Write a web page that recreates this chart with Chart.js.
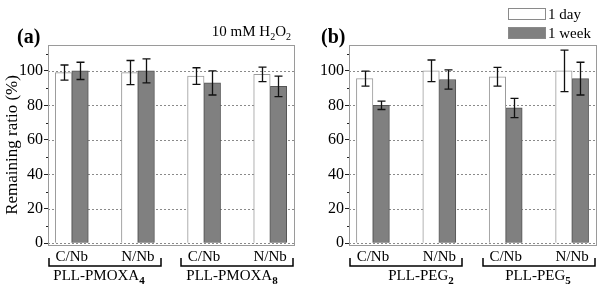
<!DOCTYPE html>
<html><head><meta charset="utf-8">
<script src="https://cdn.jsdelivr.net/npm/chart.js@4.4.0/dist/chart.umd.min.js"></script>
<style>
html,body{margin:0;padding:0;background:#fff;}
#wrap{display:flex;width:600px;height:290px;}
.p{position:relative;width:300px;height:290px;}
</style></head><body>
<div id="wrap"><div class="p"><canvas id="ca"></canvas></div><div class="p"><canvas id="cb"></canvas></div></div>
<script>
const categories = ['C/Nb', 'N/Nb', 'C/Nb', 'N/Nb'];
const seriesNames = ['1 day', '1 week'];
const yTicks = [0, 20, 40, 60, 80, 100];
const yMinorTicks = [10, 30, 50, 70, 90, 110];

const aDay = [99, 99, 97, 98];
const aDayErr = [4.4, 7, 4.8, 4.2];
const aWeek = [100, 100, 93, 91];
const aWeekErr = [5, 7, 7, 6];

const bDay = [95.5, 100, 96.6, 100];
const bDayErr = [4.4, 6.3, 5.4, 12];
const bWeek = [80, 95, 78.5, 95.5];
const bWeekErr = [2.4, 5.6, 5.6, 9.5];

const aGroups = [{name: 'PLL-PMOXA', sub: '4', from: 0, to: 1}, {name: 'PLL-PMOXA', sub: '8', from: 2, to: 3}];
const bGroups = [{name: 'PLL-PEG', sub: '2', from: 0, to: 1}, {name: 'PLL-PEG', sub: '5', from: 2, to: 3}];

const SERIF = '"Liberation Serif", "Times New Roman", serif';

function fontStr(size, bold) { return (bold ? 'bold ' : '') + size + 'px ' + SERIF; }

function drawRich(ctx, parts, x, baseline, align) {
  let total = 0;
  parts.forEach(p => { ctx.font = fontStr(p.size, p.bold); total += ctx.measureText(p.t).width; });
  let cx = align === 'center' ? x - total / 2 : (align === 'right' ? x - total : x);
  ctx.textAlign = 'left';
  ctx.textBaseline = 'alphabetic';
  ctx.fillStyle = '#000';
  parts.forEach(p => {
    ctx.font = fontStr(p.size, p.bold);
    ctx.fillText(p.t, cx, baseline + (p.dy || 0));
    cx += ctx.measureText(p.t).width;
  });
}

function makePanel(id, cfg) {
  const decor = {
    id: 'decor' + id,
    beforeDatasetsDraw(chart) {
      const ctx = chart.ctx, a = chart.chartArea, ys = chart.scales.y;
      ctx.save();
      ctx.strokeStyle = '#8a8a8a';
      ctx.lineWidth = 1;
      ctx.setLineDash([2, 2]);
      yTicks.forEach(v => {
        const y = Math.round(ys.getPixelForValue(v)) + 0.5;
        ctx.beginPath(); ctx.moveTo(a.left, y); ctx.lineTo(a.right, y); ctx.stroke();
      });
      ctx.setLineDash([]);
      ctx.strokeStyle = '#222';
      yMinorTicks.forEach(v => {
        const y = Math.round(ys.getPixelForValue(v)) + 0.5;
        ctx.beginPath(); ctx.moveTo(a.left - 2, y); ctx.lineTo(a.left, y); ctx.stroke();
      });
      ctx.restore();
    },
    afterDatasetsDraw(chart) {
      const ctx = chart.ctx, a = chart.chartArea, ys = chart.scales.y;
      ctx.save();
      ctx.strokeStyle = '#111';
      ctx.lineWidth = 1.3;
      chart.data.datasets.forEach((ds, d) => {
        const meta = chart.getDatasetMeta(d);
        meta.data.forEach((el, i) => {
          const v = ds.data[i].y, e = ds.err[i];
          const yt = ys.getPixelForValue(v + e), yb = ys.getPixelForValue(v - e);
          const x = Math.round(el.x) + 0.5;
          ctx.beginPath();
          ctx.moveTo(x, yt); ctx.lineTo(x, yb);
          ctx.moveTo(x - 4, yt); ctx.lineTo(x + 4, yt);
          ctx.moveTo(x - 4, yb); ctx.lineTo(x + 4, yb);
          ctx.stroke();
        });
      });
      ctx.strokeStyle = '#9a9a9a';
      ctx.lineWidth = 1;
      ctx.strokeRect(Math.round(a.left) + 0.5, Math.round(a.top) + 0.5, Math.round(a.right - a.left), Math.round(a.bottom - a.top));
      ctx.restore();
    },
    afterDraw(chart) {
      const ctx = chart.ctx, xs = chart.scales.x;
      ctx.save();
      ctx.strokeStyle = '#000';
      ctx.lineWidth = 1.5;
      cfg.groups.forEach((g, k) => {
        const x1 = Math.round(xs.getPixelForValue(g.from)) - 23;
        const x2 = Math.round(xs.getPixelForValue(g.to)) + 23;
        ctx.beginPath();
        ctx.moveTo(x1, 258); ctx.lineTo(x1, 266); ctx.lineTo(x2, 266); ctx.lineTo(x2, 258);
        ctx.stroke();
        drawRich(ctx, [{t: g.name, size: 15}, {t: g.sub, size: 11, bold: true, dy: 4}], (x1 + x2) / 2 + cfg.labelShift[k], 280, 'center');
      });
      drawRich(ctx, [{t: cfg.letter, size: 20, bold: true}], cfg.letterX, 43, 'left');
      if (cfg.extra) cfg.extra(chart, ctx);
      ctx.restore();
    }
  };

  return new Chart(document.getElementById(id), {
    type: 'bar',
    data: {
      datasets: [
        {label: seriesNames[0], data: cfg.day.map((v, i) => ({x: i, y: v})), err: cfg.dayErr,
         backgroundColor: '#ffffff', borderColor: '#9a9a9a', borderWidth: 1, barThickness: 16.5},
        {label: seriesNames[1], data: cfg.week.map((v, i) => ({x: i, y: v})), err: cfg.weekErr,
         backgroundColor: '#808080', borderColor: '#555555', borderWidth: 1, barThickness: 16.5}
      ]
    },
    options: {
      responsive: true, maintainAspectRatio: false, animation: false, devicePixelRatio: 1,
      layout: {padding: {top: 45, right: cfg.padRight, left: 0, bottom: 0}},
      plugins: {legend: {display: false}, tooltip: {enabled: false}},
      scales: {
        x: {
          type: 'linear', min: -0.36, max: 3.36, offset: false,
          afterBuildTicks: s => { s.ticks = categories.map((c, i) => ({value: i})); },
          afterFit: s => { s.height = 45; },
          ticks: {callback: v => categories[v], font: {family: SERIF, size: 15}, color: '#000', padding: 3, autoSkip: false, maxRotation: 0},
          grid: {drawOnChartArea: false, drawTicks: false, offset: false},
          border: {display: false}
        },
        y: {
          type: 'linear', min: -1, max: 115,
          afterBuildTicks: s => { s.ticks = yTicks.map(v => ({value: v})); },
          afterFit: s => { s.width = cfg.yWidth; },
          ticks: {font: {family: SERIF, size: 16}, color: '#000', padding: 1},
          grid: {drawOnChartArea: false, drawTicks: true, tickLength: 4, tickColor: '#222', tickWidth: 1},
          border: {display: false},
          title: {display: cfg.title, text: 'Remaining ratio (%)', font: {family: SERIF, size: 17}, color: '#000', padding: {top: 2, bottom: 0}}
        }
      }
    },
    plugins: [decor]
  });
}

makePanel('ca', {
  day: aDay, dayErr: aDayErr, week: aWeek, weekErr: aWeekErr, groups: aGroups,
  labelShift: [-6, -5], yWidth: 48, padRight: 6, title: true, letter: '(a)', letterX: 17,
  extra(chart, ctx) {
    drawRich(ctx, [{t: '10 mM H', size: 15}, {t: '2', size: 10, dy: 4}, {t: 'O', size: 15}, {t: '2', size: 10, dy: 4}], 291, 36, 'right');
  }
});

makePanel('cb', {
  day: bDay, dayErr: bDayErr, week: bWeek, weekErr: bWeekErr, groups: bGroups,
  labelShift: [15, -1], yWidth: 49, padRight: 4, title: false, letter: '(b)', letterX: 21,
  extra(chart, ctx) {
    const ds = chart.data.datasets;
    const rows = [8, 27];
    ds.forEach((d, i) => {
      ctx.fillStyle = d.backgroundColor;
      ctx.fillRect(208, rows[i], 37, 11);
      ctx.strokeStyle = '#8a8a8a';
      ctx.lineWidth = 1;
      ctx.strokeRect(208.5, rows[i] + 0.5, 37, 11);
      drawRich(ctx, [{t: d.label, size: 15}], 248, rows[i] + 11, 'left');
    });
  }
});
</script>
</body></html>
